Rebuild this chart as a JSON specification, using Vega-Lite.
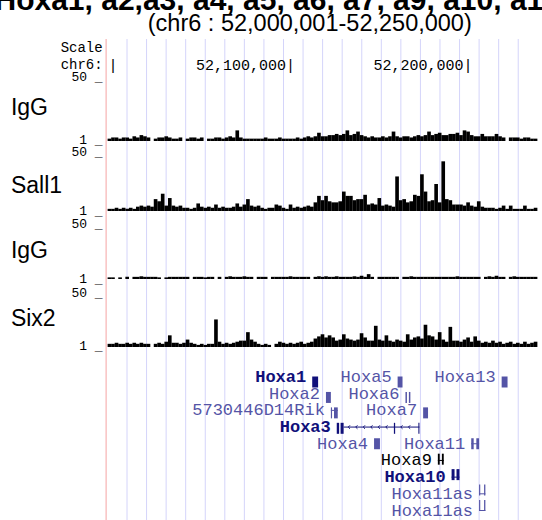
{
  "$schema": "https://vega.github.io/schema/vega-lite/v6.json",
  "width": 542,
  "height": 520,
  "autosize": {"type": "fit", "contains": "padding"},
  "padding": 0,
  "background": "white",
  "config": {"view": {"stroke": null}},
  "resolve": {"scale": {"y": "independent"}},
  "datasets": {
    "grid": [
      {"pos": 52007.90}, {"pos": 52018.92}, {"pos": 52029.94}, {"pos": 52040.95}, {"pos": 52051.97},
      {"pos": 52062.99}, {"pos": 52074.00}, {"pos": 52085.02}, {"pos": 52096.04}, {"pos": 52107.05},
      {"pos": 52118.07}, {"pos": 52129.09}, {"pos": 52140.11}, {"pos": 52151.12}, {"pos": 52162.14},
      {"pos": 52173.16}, {"pos": 52184.17}, {"pos": 52195.19}, {"pos": 52206.21}, {"pos": 52217.22},
      {"pos": 52228.24}
    ],
    "sig": [
      {"x":51998,"a":2,"b":2,"c":1.5,"d":3},
      {"x":52000,"a":3,"b":2,"c":1.5,"d":3},
      {"x":52002,"a":3,"b":3,"c":0,"d":4},
      {"x":52004,"a":2,"b":2,"c":1.5,"d":3},
      {"x":52006,"a":3,"b":3,"c":0,"d":3},
      {"x":52008,"a":3,"b":2,"c":2,"d":4},
      {"x":52010,"a":2,"b":3,"c":0,"d":3},
      {"x":52012,"a":4,"b":2,"c":2,"d":4},
      {"x":52014,"a":3,"b":4,"c":2,"d":3},
      {"x":52016,"a":5,"b":5,"c":2.5,"d":4},
      {"x":52018,"a":4,"b":4,"c":2,"d":3},
      {"x":52020,"a":3,"b":5,"c":2,"d":3},
      {"x":52022,"a":0,"b":4,"c":2,"d":0},
      {"x":52024,"a":2,"b":11,"c":2,"d":3},
      {"x":52026,"a":3,"b":9,"c":1.5,"d":4},
      {"x":52028,"a":3,"b":16,"c":0,"d":3},
      {"x":52030,"a":4,"b":5,"c":1.5,"d":5},
      {"x":52032,"a":3,"b":12,"c":2,"d":11},
      {"x":52034,"a":2,"b":5,"c":2,"d":4},
      {"x":52036,"a":2,"b":4,"c":2,"d":4},
      {"x":52038,"a":3,"b":5,"c":2,"d":3},
      {"x":52040,"a":0,"b":3,"c":2,"d":4},
      {"x":52042,"a":2,"b":3,"c":2,"d":7},
      {"x":52044,"a":3,"b":2,"c":0,"d":4},
      {"x":52046,"a":3,"b":3,"c":2,"d":3},
      {"x":52048,"a":2,"b":7,"c":2,"d":2},
      {"x":52050,"a":3,"b":4,"c":2,"d":3},
      {"x":52052,"a":0,"b":3,"c":1.5,"d":2},
      {"x":52054,"a":2,"b":4,"c":2,"d":3},
      {"x":52056,"a":2,"b":3,"c":2,"d":3},
      {"x":52058,"a":3,"b":6,"c":0,"d":26},
      {"x":52060,"a":3,"b":3,"c":2,"d":5},
      {"x":52062,"a":2,"b":4,"c":0,"d":3},
      {"x":52064,"a":3,"b":3,"c":2,"d":4},
      {"x":52066,"a":4,"b":3,"c":2.5,"d":3},
      {"x":52068,"a":3,"b":4,"c":2,"d":4},
      {"x":52070,"a":9,"b":7,"c":2,"d":5},
      {"x":52072,"a":3,"b":4,"c":2,"d":6},
      {"x":52074,"a":2,"b":6,"c":2.5,"d":6},
      {"x":52076,"a":2,"b":11,"c":2,"d":14},
      {"x":52078,"a":2,"b":5,"c":2,"d":7},
      {"x":52080,"a":2,"b":4,"c":0,"d":5},
      {"x":52082,"a":2,"b":5,"c":2,"d":3},
      {"x":52084,"a":2,"b":3,"c":2,"d":2},
      {"x":52086,"a":3,"b":2,"c":2,"d":3},
      {"x":52088,"a":2,"b":3,"c":0,"d":2},
      {"x":52090,"a":2,"b":3,"c":2,"d":0},
      {"x":52092,"a":2,"b":6,"c":2,"d":3},
      {"x":52094,"a":3,"b":5,"c":2,"d":5},
      {"x":52096,"a":2,"b":3,"c":2,"d":4},
      {"x":52098,"a":2,"b":2,"c":2,"d":3},
      {"x":52100,"a":2,"b":6,"c":2.5,"d":4},
      {"x":52102,"a":2,"b":3,"c":2,"d":3},
      {"x":52104,"a":3,"b":4,"c":2,"d":4},
      {"x":52106,"a":2,"b":3,"c":2,"d":5},
      {"x":52108,"a":3,"b":4,"c":2,"d":3},
      {"x":52110,"a":4,"b":5,"c":2,"d":4},
      {"x":52112,"a":3,"b":4,"c":0,"d":5},
      {"x":52114,"a":4,"b":8,"c":2,"d":8},
      {"x":52116,"a":7,"b":14,"c":2.5,"d":10},
      {"x":52118,"a":4,"b":10,"c":2,"d":12},
      {"x":52120,"a":4,"b":14,"c":2.5,"d":9},
      {"x":52122,"a":5,"b":9,"c":2,"d":11},
      {"x":52124,"a":5,"b":8,"c":2,"d":9},
      {"x":52126,"a":6,"b":8,"c":2.5,"d":6},
      {"x":52128,"a":5,"b":9,"c":2,"d":7},
      {"x":52130,"a":6,"b":18,"c":2,"d":12},
      {"x":52132,"a":9,"b":14,"c":2,"d":8},
      {"x":52134,"a":5,"b":14,"c":2,"d":7},
      {"x":52136,"a":6,"b":10,"c":2.5,"d":6},
      {"x":52138,"a":8,"b":11,"c":2,"d":7},
      {"x":52140,"a":5,"b":11,"c":3,"d":13},
      {"x":52142,"a":4,"b":15,"c":2,"d":9},
      {"x":52144,"a":3,"b":6,"c":4.5,"d":6},
      {"x":52146,"a":4,"b":7,"c":2,"d":6},
      {"x":52148,"a":3,"b":6,"c":0,"d":20},
      {"x":52150,"a":3,"b":12,"c":2,"d":7},
      {"x":52152,"a":4,"b":5,"c":2,"d":6},
      {"x":52154,"a":3,"b":6,"c":2,"d":11},
      {"x":52156,"a":4,"b":5,"c":2,"d":6},
      {"x":52158,"a":8,"b":4,"c":2,"d":5},
      {"x":52160,"a":4,"b":32,"c":2,"d":7},
      {"x":52162,"a":3,"b":10,"c":0,"d":6},
      {"x":52164,"a":4,"b":11,"c":2,"d":5},
      {"x":52166,"a":4,"b":8,"c":2,"d":12},
      {"x":52168,"a":3,"b":9,"c":2.5,"d":7},
      {"x":52170,"a":4,"b":15,"c":2,"d":9},
      {"x":52172,"a":5,"b":14,"c":2,"d":10},
      {"x":52174,"a":4,"b":34,"c":2,"d":8},
      {"x":52176,"a":5,"b":18,"c":2,"d":21},
      {"x":52178,"a":8,"b":9,"c":2,"d":11},
      {"x":52180,"a":5,"b":10,"c":2,"d":10},
      {"x":52182,"a":6,"b":25,"c":2,"d":7},
      {"x":52184,"a":7,"b":8,"c":2,"d":14},
      {"x":52186,"a":5,"b":46,"c":2,"d":7},
      {"x":52188,"a":5,"b":11,"c":2,"d":5},
      {"x":52190,"a":6,"b":10,"c":2,"d":19},
      {"x":52192,"a":6,"b":6,"c":2,"d":6},
      {"x":52194,"a":7,"b":6,"c":2.5,"d":6},
      {"x":52196,"a":5,"b":6,"c":2,"d":5},
      {"x":52198,"a":9,"b":5,"c":2,"d":7},
      {"x":52200,"a":8,"b":8,"c":2,"d":9},
      {"x":52202,"a":5,"b":5,"c":2,"d":5},
      {"x":52204,"a":4,"b":4,"c":2,"d":10},
      {"x":52206,"a":4,"b":9,"c":2,"d":6},
      {"x":52208,"a":6,"b":4,"c":0,"d":4},
      {"x":52210,"a":4,"b":3,"c":2,"d":5},
      {"x":52212,"a":4,"b":3,"c":2.5,"d":4},
      {"x":52214,"a":4,"b":3,"c":2,"d":6},
      {"x":52216,"a":6,"b":2,"c":3,"d":4},
      {"x":52218,"a":4,"b":3,"c":2,"d":5},
      {"x":52220,"a":3,"b":5,"c":2,"d":3},
      {"x":52222,"a":0,"b":2,"c":0,"d":4},
      {"x":52224,"a":3,"b":5,"c":2,"d":5},
      {"x":52226,"a":3,"b":2,"c":2.5,"d":3},
      {"x":52228,"a":3,"b":2,"c":2,"d":4},
      {"x":52230,"a":2,"b":2,"c":2,"d":3},
      {"x":52232,"a":3,"b":5,"c":2,"d":5},
      {"x":52234,"a":3,"b":2,"c":2,"d":3},
      {"x":52236,"a":2,"b":2,"c":2,"d":4},
      {"x":52238,"a":2,"b":3,"c":2,"d":5}
    ],
    "exons": [
      {"g":"Hoxa1","r":1,"s":52112.21,"e":52115.53,"c":"d"},
      {"g":"Hoxa5","r":1,"s":52160.31,"e":52163.07,"c":"l"},
      {"g":"Hoxa13","r":1,"s":52218.9,"e":52222.22,"c":"l"},
      {"g":"Hoxa2","r":2,"s":52119.95,"e":52122.72,"c":"l"},
      {"g":"Hoxa6","r":2,"s":52164.73,"e":52165.56,"c":"l"},
      {"g":"Hoxa6","r":2,"s":52166.66,"e":52167.49,"c":"l"},
      {"g":"5730446D14Rik","r":3,"s":52122.72,"e":52123.38,"c":"l"},
      {"g":"5730446D14Rik","r":3,"s":52124.49,"e":52126.59,"c":"l"},
      {"g":"Hoxa7","r":3,"s":52174.68,"e":52177.44,"c":"l"},
      {"g":"Hoxa3","r":4,"s":52126.03,"e":52127.36,"c":"d"},
      {"g":"Hoxa3","r":4,"s":52128.19,"e":52129.9,"c":"d"},
      {"g":"Hoxa3","r":4,"s":52158.21,"e":52158.92,"c":"d"},
      {"g":"Hoxa3","r":4,"s":52172.0,"e":52172.6,"c":"d"},
      {"g":"Hoxa4","r":5,"s":52147.04,"e":52150.36,"c":"l"},
      {"g":"Hoxa11","r":5,"s":52201.77,"e":52203.15,"c":"l"},
      {"g":"Hoxa11","r":5,"s":52204.64,"e":52206.19,"c":"l"},
      {"g":"Hoxa9","r":6,"s":52182.97,"e":52184.02,"c":"k"},
      {"g":"Hoxa9","r":6,"s":52185.24,"e":52186.29,"c":"k"},
      {"g":"Hoxa10","r":7,"s":52190.71,"e":52192.37,"c":"d"},
      {"g":"Hoxa10","r":7,"s":52193.47,"e":52195.13,"c":"d"},
      {"g":"Hoxa11as","r":8,"s":52206.19,"e":52206.85,"c":"l"},
      {"g":"Hoxa11as","r":8,"s":52209.01,"e":52209.73,"c":"l"},
      {"g":"Hoxa11as","r":9,"s":52206.19,"e":52206.85,"c":"l"},
      {"g":"Hoxa11as","r":9,"s":52209.01,"e":52209.73,"c":"l"}
    ],
    "introns": [
      {"g":"5730446D14Rik","r":3,"s":52122.72,"e":52126.59,"c":"l"},
      {"g":"Hoxa3","r":4,"s":52129.9,"e":52172.6,"c":"d"},
      {"g":"Hoxa11","r":5,"s":52201.77,"e":52206.19,"c":"l"},
      {"g":"Hoxa9","r":6,"s":52182.97,"e":52186.29,"c":"k"},
      {"g":"Hoxa10","r":7,"s":52190.71,"e":52195.13,"c":"d"},
      {"g":"Hoxa11as","r":8,"s":52206.19,"e":52209.73,"c":"l"},
      {"g":"Hoxa11as","r":9,"s":52206.19,"e":52209.73,"c":"l"}
    ],
    "genes": [
      {"g":"Hoxa1","r":1,"s":52112.21,"c":"d"},
      {"g":"Hoxa5","r":1,"s":52160.31,"c":"l"},
      {"g":"Hoxa13","r":1,"s":52218.9,"c":"l"},
      {"g":"Hoxa2","r":2,"s":52119.95,"c":"l"},
      {"g":"Hoxa6","r":2,"s":52164.73,"c":"l"},
      {"g":"5730446D14Rik","r":3,"s":52122.72,"c":"l"},
      {"g":"Hoxa7","r":3,"s":52174.68,"c":"l"},
      {"g":"Hoxa3","r":4,"s":52126.03,"c":"d"},
      {"g":"Hoxa4","r":5,"s":52147.04,"c":"l"},
      {"g":"Hoxa11","r":5,"s":52201.77,"c":"l"},
      {"g":"Hoxa9","r":6,"s":52182.97,"c":"k"},
      {"g":"Hoxa10","r":7,"s":52190.71,"c":"d"},
      {"g":"Hoxa11as","r":8,"s":52206.19,"c":"l"},
      {"g":"Hoxa11as","r":9,"s":52206.19,"c":"l"}
    ],
    "arrows": [
      {"p":52133.0},{"p":52137.2},{"p":52141.46},{"p":52145.66},{"p":52149.86},
      {"p":52154.12},{"p":52162.57},{"p":52166.89}
    ]
  },
  "layer": [
    {
      "data": {"name": "grid"},
      "mark": {"type": "rule", "color": "#d4d4fa", "strokeWidth": 1},
      "encoding": {
        "x": {"field": "pos", "type": "quantitative", "scale": {"domain": [51939.19, 52238.81], "nice": false, "zero": false}, "axis": null},
        "y": {"datum": 39, "type": "quantitative", "scale": {"domain": [0, 520], "range": [0, 520], "nice": false, "zero": false}, "axis": null},
        "y2": {"datum": 520}
      }
    },
    {
      "data": {"values": [{"edge": 51996.13}]},
      "mark": {"type": "rule", "color": "#f5a3a3", "strokeWidth": 1},
      "encoding": {
        "x": {"field": "edge", "type": "quantitative", "scale": {"domain": [51939.19, 52238.81], "nice": false, "zero": false}, "axis": null},
        "y": {"datum": 39, "type": "quantitative", "scale": {"domain": [0, 520], "range": [0, 520], "nice": false, "zero": false}, "axis": null},
        "y2": {"datum": 520}
      }
    },
    {
      "data": {"values": [{"t": "Hoxa1, a2,a3, a4, a5, a6, a7, a9, a10, a11, a13"}]},
      "mark": {"type": "text", "font": "Liberation Sans", "fontSize": 30, "fontWeight": "bold", "align": "center", "baseline": "alphabetic", "clip": true, "color": "#000000"},
      "encoding": {
        "text": {"field": "t"},
        "x": {"datum": 52110.83, "type": "quantitative", "scale": {"domain": [51939.19, 52238.81], "nice": false, "zero": false}, "axis": null},
        "y": {"datum": 9.5, "type": "quantitative", "scale": {"domain": [0, 520], "range": [0, 520], "nice": false, "zero": false}, "axis": null}
      }
    },
    {
      "data": {"values": [{"t": "(chr6 : 52,000,001-52,250,000)"}]},
      "mark": {"type": "text", "font": "Liberation Sans", "fontSize": 23.5, "align": "center", "baseline": "alphabetic", "color": "#000000"},
      "encoding": {
        "text": {"field": "t"},
        "x": {"datum": 52110.83, "type": "quantitative", "scale": {"domain": [51939.19, 52238.81], "nice": false, "zero": false}, "axis": null},
        "y": {"datum": 31, "type": "quantitative", "scale": {"domain": [0, 520], "range": [0, 520], "nice": false, "zero": false}, "axis": null}
      }
    },
    {
      "data": {"values": [{"t": "Scale", "line": 1}, {"t": "chr6:", "line": 2}]},
      "mark": {"type": "text", "font": "Liberation Mono", "fontSize": 14, "align": "right", "baseline": "middle", "color": "#000000"},
      "encoding": {
        "text": {"field": "t"},
        "x": {"datum": 51994.2, "type": "quantitative", "scale": {"domain": [51939.19, 52238.81], "nice": false, "zero": false}, "axis": null},
        "y": {"field": "line", "type": "quantitative", "scale": {"domain": [1, 2], "range": [48, 65], "nice": false, "zero": false}, "axis": null}
      }
    },
    {
      "data": {"values": [{"pos": 52000, "t": "|"}, {"pos": 52100, "t": "52,100,000|"}, {"pos": 52200, "t": "52,200,000|"}]},
      "mark": {"type": "text", "font": "Liberation Mono", "fontSize": 15, "align": "right", "baseline": "middle", "dx": 4.5, "color": "#000000"},
      "encoding": {
        "text": {"field": "t"},
        "x": {"field": "pos", "type": "quantitative", "scale": {"domain": [51939.19, 52238.81], "nice": false, "zero": false}, "axis": null},
        "y": {"datum": 65, "type": "quantitative", "scale": {"domain": [0, 520], "range": [0, 520], "nice": false, "zero": false}, "axis": null}
      }
    },
    {
      "data": {"name": "sig"},
      "mark": {"type": "bar", "orient": "vertical", "width": 3.65, "color": "#000000", "clip": true},
      "encoding": {
        "x": {"field": "x", "type": "quantitative", "scale": {"domain": [51939.19, 52238.81], "nice": false, "zero": false}, "axis": null},
        "y": {"field": "a", "type": "quantitative", "stack": null, "scale": {"domain": [0, 50], "range": [141, 82], "nice": false, "zero": false}, "axis": null}
      }
    },
    {
      "data": {"name": "sig"},
      "mark": {"type": "bar", "orient": "vertical", "width": 3.65, "color": "#000000", "clip": true},
      "encoding": {
        "x": {"field": "x", "type": "quantitative", "scale": {"domain": [51939.19, 52238.81], "nice": false, "zero": false}, "axis": null},
        "y": {"field": "b", "type": "quantitative", "stack": null, "scale": {"domain": [0, 50], "range": [211, 157], "nice": false, "zero": false}, "axis": null}
      }
    },
    {
      "data": {"name": "sig"},
      "mark": {"type": "bar", "orient": "vertical", "width": 3.65, "color": "#000000", "clip": true},
      "encoding": {
        "x": {"field": "x", "type": "quantitative", "scale": {"domain": [51939.19, 52238.81], "nice": false, "zero": false}, "axis": null},
        "y": {"field": "c", "type": "quantitative", "stack": null, "scale": {"domain": [0, 50], "range": [279, 225], "nice": false, "zero": false}, "axis": null}
      }
    },
    {
      "data": {"name": "sig"},
      "mark": {"type": "bar", "orient": "vertical", "width": 3.65, "color": "#000000", "clip": true},
      "encoding": {
        "x": {"field": "x", "type": "quantitative", "scale": {"domain": [51939.19, 52238.81], "nice": false, "zero": false}, "axis": null},
        "y": {"field": "d", "type": "quantitative", "stack": null, "scale": {"domain": [0, 50], "range": [347, 294], "nice": false, "zero": false}, "axis": null}
      }
    },
    {
      "data": {"values": [{"v": 50, "t": "50 _"}, {"v": 1, "t": "1 _"}]},
      "mark": {"type": "text", "font": "Liberation Mono", "fontSize": 13, "align": "right", "baseline": "middle", "color": "#000000"},
      "encoding": {
        "text": {"field": "t"},
        "x": {"datum": 51994.2, "type": "quantitative", "scale": {"domain": [51939.19, 52238.81], "nice": false, "zero": false}, "axis": null},
        "y": {"field": "v", "type": "quantitative", "scale": {"domain": [1, 50], "range": [140, 77], "nice": false, "zero": false}, "axis": null}
      }
    },
    {
      "data": {"values": [{"v": 50, "t": "50 _"}, {"v": 1, "t": "1 _"}]},
      "mark": {"type": "text", "font": "Liberation Mono", "fontSize": 13, "align": "right", "baseline": "middle", "color": "#000000"},
      "encoding": {
        "text": {"field": "t"},
        "x": {"datum": 51994.2, "type": "quantitative", "scale": {"domain": [51939.19, 52238.81], "nice": false, "zero": false}, "axis": null},
        "y": {"field": "v", "type": "quantitative", "scale": {"domain": [1, 50], "range": [210.5, 151.5], "nice": false, "zero": false}, "axis": null}
      }
    },
    {
      "data": {"values": [{"v": 50, "t": "50 _"}, {"v": 1, "t": "1 _"}]},
      "mark": {"type": "text", "font": "Liberation Mono", "fontSize": 13, "align": "right", "baseline": "middle", "color": "#000000"},
      "encoding": {
        "text": {"field": "t"},
        "x": {"datum": 51994.2, "type": "quantitative", "scale": {"domain": [51939.19, 52238.81], "nice": false, "zero": false}, "axis": null},
        "y": {"field": "v", "type": "quantitative", "scale": {"domain": [1, 50], "range": [278.5, 223.5], "nice": false, "zero": false}, "axis": null}
      }
    },
    {
      "data": {"values": [{"v": 50, "t": "50 _"}, {"v": 1, "t": "1 _"}]},
      "mark": {"type": "text", "font": "Liberation Mono", "fontSize": 13, "align": "right", "baseline": "middle", "color": "#000000"},
      "encoding": {
        "text": {"field": "t"},
        "x": {"datum": 51994.2, "type": "quantitative", "scale": {"domain": [51939.19, 52238.81], "nice": false, "zero": false}, "axis": null},
        "y": {"field": "v", "type": "quantitative", "scale": {"domain": [1, 50], "range": [345.5, 293], "nice": false, "zero": false}, "axis": null}
      }
    },
    {
      "data": {"values": [{"k": 1, "n": "IgG"}, {"k": 2, "n": "Sall1"}, {"k": 3, "n": "IgG"}, {"k": 4, "n": "Six2"}]},
      "mark": {"type": "text", "font": "Liberation Sans", "fontSize": 23, "align": "left", "baseline": "middle", "color": "#000000"},
      "encoding": {
        "text": {"field": "n"},
        "x": {"datum": 51942.51, "type": "quantitative", "scale": {"domain": [51939.19, 52238.81], "nice": false, "zero": false}, "axis": null},
        "y": {"field": "k", "type": "quantitative", "scale": {"type": "linear", "domain": [1, 2, 3, 4], "range": [108, 186, 251, 319], "nice": false, "zero": false}, "axis": null}
      }
    },
    {
      "data": {"name": "introns"},
      "mark": {"type": "rule", "strokeWidth": 1},
      "encoding": {
        "x": {"field": "s", "type": "quantitative", "scale": {"domain": [51939.19, 52238.81], "nice": false, "zero": false}, "axis": null},
        "x2": {"field": "e"},
        "y": {"field": "r", "type": "quantitative", "scale": {"domain": [1, 9], "range": [377, 510.5], "nice": false, "zero": false}, "axis": null},
        "color": {"field": "c", "type": "nominal", "scale": {"domain": ["d", "l", "k"], "range": ["#10107a", "#5454a6", "#000000"]}, "legend": null}
      }
    },
    {
      "data": {"name": "arrows"},
      "mark": {"type": "point", "shape": "M0.5,-1L-0.5,0L0.5,1", "filled": false, "size": 12, "strokeWidth": 1, "color": "#10107a", "opacity": 1},
      "encoding": {
        "x": {"field": "p", "type": "quantitative", "scale": {"domain": [51939.19, 52238.81], "nice": false, "zero": false}, "axis": null},
        "y": {"datum": 4, "type": "quantitative", "scale": {"domain": [1, 9], "range": [377, 510.5], "nice": false, "zero": false}, "axis": null}
      }
    },
    {
      "data": {"name": "exons"},
      "mark": {"type": "bar", "orient": "horizontal", "height": 11},
      "encoding": {
        "x": {"field": "s", "type": "quantitative", "scale": {"domain": [51939.19, 52238.81], "nice": false, "zero": false}, "axis": null},
        "x2": {"field": "e"},
        "y": {"field": "r", "type": "quantitative", "scale": {"domain": [1, 9], "range": [377, 510.5], "nice": false, "zero": false}, "axis": null},
        "color": {"field": "c", "type": "nominal", "scale": {"domain": ["d", "l", "k"], "range": ["#10107a", "#5454a6", "#000000"]}, "legend": null}
      }
    },
    {
      "data": {"name": "genes"},
      "transform": [{"filter": "datum.c !== 'd'"}],
      "mark": {"type": "text", "font": "Liberation Mono", "fontSize": 17, "align": "right", "baseline": "middle", "dx": -6},
      "encoding": {
        "text": {"field": "g"},
        "x": {"field": "s", "type": "quantitative", "scale": {"domain": [51939.19, 52238.81], "nice": false, "zero": false}, "axis": null},
        "y": {"field": "r", "type": "quantitative", "scale": {"domain": [1, 9], "range": [377, 510.5], "nice": false, "zero": false}, "axis": null},
        "color": {"field": "c", "type": "nominal", "scale": {"domain": ["d", "l", "k"], "range": ["#10107a", "#5454a6", "#000000"]}, "legend": null}
      }
    },
    {
      "data": {"name": "genes"},
      "transform": [{"filter": "datum.c === 'd'"}],
      "mark": {"type": "text", "font": "Liberation Mono", "fontSize": 17, "fontWeight": "bold", "align": "right", "baseline": "middle", "dx": -6},
      "encoding": {
        "text": {"field": "g"},
        "x": {"field": "s", "type": "quantitative", "scale": {"domain": [51939.19, 52238.81], "nice": false, "zero": false}, "axis": null},
        "y": {"field": "r", "type": "quantitative", "scale": {"domain": [1, 9], "range": [377, 510.5], "nice": false, "zero": false}, "axis": null},
        "color": {"field": "c", "type": "nominal", "scale": {"domain": ["d", "l", "k"], "range": ["#10107a", "#5454a6", "#000000"]}, "legend": null}
      }
    }
  ]
}
